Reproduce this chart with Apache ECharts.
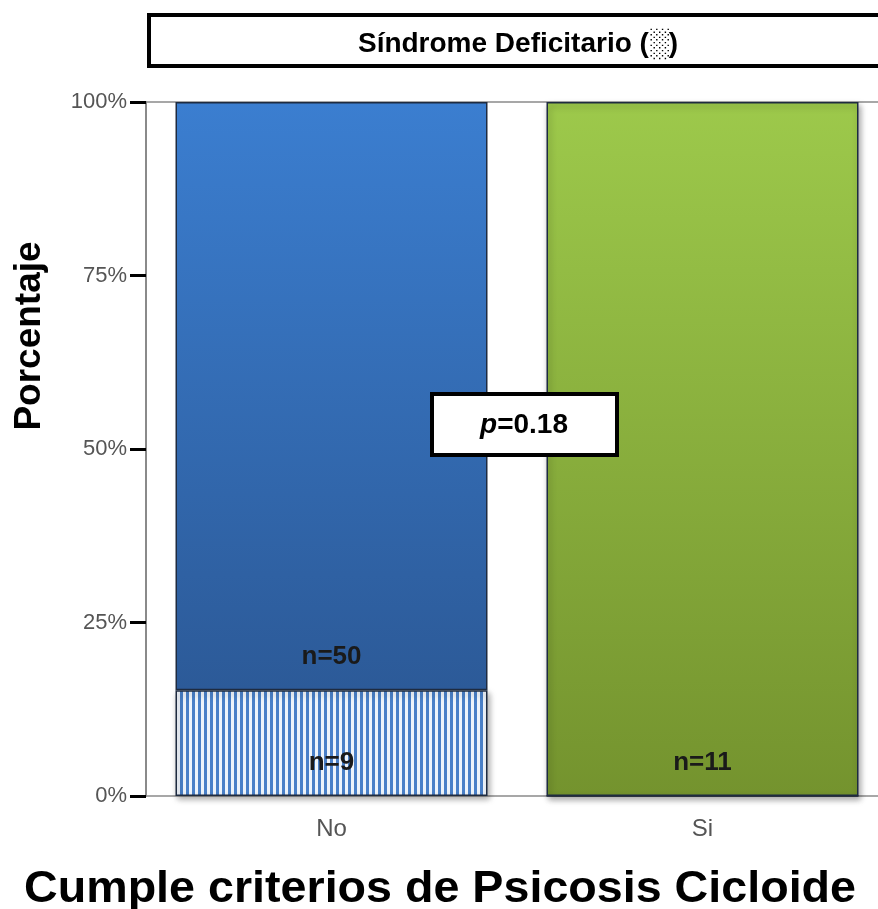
<!DOCTYPE html>
<html>
<head>
<meta charset="utf-8">
<script src="https://cdn.jsdelivr.net/npm/echarts@6/dist/echarts.min.js"></script>
<style>
  html, body { margin: 0; padding: 0; background: #ffffff; overflow: hidden; }
  #chart { width: 878px; height: 909px; }
</style>
</head>
<body>
<div id="chart"></div>
<script>
// Categories on the x axis and patient counts in each group
const categories = ['No', 'Si'];
const nDeficit = [9, 0];      // with deficit syndrome (hatched)
const nNoDeficit = [50, 11];  // without deficit syndrome
const yTicks = [0, 25, 50, 75, 100];
const pText = '0.18';

const totals = categories.map((c, i) => nDeficit[i] + nNoDeficit[i]);
const pctDeficit = nDeficit.map((n, i) => n / totals[i] * 100);
const pctNoDeficit = nNoDeficit.map((n, i) => n / totals[i] * 100);

// vertical stripe fill for the hatched segment
function stripePattern() {
  const c = document.createElement('canvas');
  c.width = 6; c.height = 4;
  const ctx = c.getContext('2d');
  ctx.fillStyle = '#eef4fb';
  ctx.fillRect(0, 0, 6, 4);
  ctx.fillStyle = '#4a80c8';
  ctx.fillRect(0, 0, 3, 4);
  return c;
}

const blueFill = new echarts.graphic.LinearGradient(0, 0, 0, 1, [
  { offset: 0, color: '#3b7ed0' }, { offset: 1, color: '#2c5a98' }
]);
const greenFill = new echarts.graphic.LinearGradient(0, 0, 0, 1, [
  { offset: 0, color: '#9dc94b' }, { offset: 1, color: '#74932e' }
]);
const upperFills = [blueFill, greenFill];

const shadow = { shadowColor: 'rgba(0,0,0,0.35)', shadowBlur: 6, shadowOffsetX: 2, shadowOffsetY: 3 };
const font = 'Liberation Sans, Arial, sans-serif';

const chart = echarts.init(document.getElementById('chart'), null, { renderer: 'canvas' });

const labelStyle = {
  show: true,
  position: 'insideBottom',
  distance: 20,
  fontFamily: font,
  fontWeight: 'bold',
  fontSize: 26,
  color: '#1a1a1a'
};

chart.setOption({
  animation: false,
  grid: { left: 146, width: 742, top: 102, bottom: 113, containLabel: false, outerBoundsMode: 'none' },
  xAxis: [{
    type: 'category',
    data: categories,
    axisLine: { lineStyle: { color: '#8a8a8a', width: 1.5 } },
    axisTick: { alignWithLabel: true, length: 10, lineStyle: { color: '#000', width: 3 } },
    axisLabel: { margin: 21, fontFamily: font, fontSize: 24, color: '#555' }
  }, {
    type: 'category',
    data: categories,
    position: 'top',
    axisLine: { lineStyle: { color: '#8a8a8a', width: 1.5 } },
    axisTick: { show: false },
    axisLabel: { show: false }
  }],
  yAxis: {
    type: 'value',
    min: 0, max: 100, interval: 25,
    axisLine: { show: true, lineStyle: { color: '#8a8a8a', width: 2 } },
    axisTick: { show: true, length: 16, lineStyle: { color: '#000', width: 3 } },
    splitLine: { show: false },
    axisLabel: {
      margin: 19,
      fontFamily: font,
      fontSize: 22,
      color: '#555',
      formatter: v => yTicks.includes(v) ? v + '%' : ''
    }
  },
  series: [{
    name: 'Con síndrome deficitario',
    type: 'bar',
    stack: 'total',
    barWidth: 312,
    data: pctDeficit.map((v, i) => ({
      value: v,
      itemStyle: Object.assign({ color: { image: stripePattern(), repeat: 'repeat' }, borderColor: '#1e2b40', borderWidth: 1.5 }, shadow),
      label: Object.assign({}, labelStyle, { show: nDeficit[i] > 0, formatter: 'n=' + nDeficit[i] })
    }))
  }, {
    name: 'Sin síndrome deficitario',
    type: 'bar',
    stack: 'total',
    barWidth: 312,
    data: pctNoDeficit.map((v, i) => ({
      value: v,
      itemStyle: Object.assign({ color: upperFills[i], borderColor: '#1e2b40', borderWidth: 1.5 }, nDeficit[i] === 0 ? shadow : {}),
      label: Object.assign({}, labelStyle, { formatter: 'n=' + nNoDeficit[i] })
    }))
  }],
  graphic: [
    // title box
    { type: 'rect', shape: { x: 149, y: 15, width: 740, height: 51 },
      style: { fill: '#fff', stroke: '#000', lineWidth: 4 }, z: 10 },
    { type: 'text', x: 518, y: 44, z: 11,
      style: { text: 'Síndrome Deficitario (░)', fontFamily: font,
        fontWeight: 'bold', fontSize: 28, fill: '#000', align: 'center', verticalAlign: 'middle' } },
    // p-value box
    { type: 'rect', shape: { x: 432, y: 394, width: 185, height: 61 },
      style: { fill: '#fff', stroke: '#000', lineWidth: 4 }, z: 10 },
    { type: 'text', x: 524, y: 425, z: 11,
      style: { text: '{i|p}{b|=' + pText + '}', align: 'center', verticalAlign: 'middle',
        rich: {
          i: { fontFamily: font, fontStyle: 'italic', fontWeight: 'bold', fontSize: 28, fill: '#000' },
          b: { fontFamily: font, fontWeight: 'bold', fontSize: 28, fill: '#000' }
        } } },
    // axis titles
    { type: 'text', x: 30, y: 336, rotation: Math.PI / 2, z: 11,
      style: { text: 'Porcentaje', fontFamily: font, fontWeight: 'bold',
        fontSize: 37, fill: '#000', align: 'center', verticalAlign: 'middle' } },
    { type: 'text', x: 440, y: 890, scaleX: 1.06, z: 11,
      style: { text: 'Cumple criterios de Psicosis Cicloide', fontFamily: font,
        fontWeight: 'bold', fontSize: 44, fill: '#000', align: 'center', verticalAlign: 'middle' } }
  ]
});
</script>
</body>
</html>
